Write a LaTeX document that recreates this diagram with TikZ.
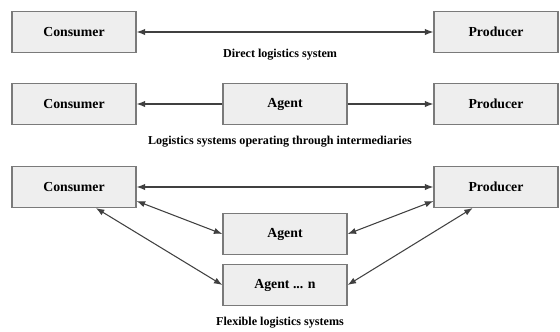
\documentclass[tikz,border=0pt]{standalone}
\usepackage{fontspec}
\setmainfont{Liberation Serif}
\usetikzlibrary{arrows.meta}

\definecolor{boxfill}{HTML}{EEEEEE}
\definecolor{boxline}{HTML}{7A7A7A}

\tikzset{
	party/.style={
		draw=boxline, fill=boxfill, line width=0.9pt,
		minimum width=3.1cm, minimum height=1.02cm,
		font=\bfseries\fontsize{9.8}{11}\selectfont
	},
	caption/.style={font=\bfseries\fontsize{8.6}{10}\selectfont},
	link/.style={draw=black!75, line width=0.75pt,
		>={Latex[length=6pt,width=4.5pt]}}
}

\begin{document}
\begin{tikzpicture}[x=0.025cm, y=-0.025cm]
		\useasboundingbox (0,0) rectangle (560,331);
		% direct
		\node [party] (c1) at (74,32) {Consumer};
		\node [party] (p1) at (496,32) {Producer};
		\draw [link, <->] (c1) -- (p1);
		\node [caption] (t1) at (280,55) {Direct logistics system};
		% through intermediaries
		\node [party] (c2) at (74,104) {Consumer};
		\node [party] (a2) at (285,104) {Agent};
		\node [party] (p2) at (496,104) {Producer};
		\draw [link, ->] (a2) -- (c2);
		\draw [link, ->] (a2) -- (p2);
		\node [caption] (t2) at (280,142) {Logistics systems operating through intermediaries};
		% flexible
		\node [party] (c3) at (74,187) {Consumer};
		\node [party] (p3) at (496,187) {Producer};
		\node [party] (a3) at (285,234) {Agent};
		\node [party] (n3) at (285,285) {Agent ... n};
		\draw [link, <->] (c3) -- (p3);
		\draw [link, <->] (c3.south east) ++(0,-7) -- (a3.west);
		\draw [link, <->] ([xshift=-29]c3.south east) -- (n3.west);
		\draw [link, <->] (p3.south west) ++(0,-7) -- (a3.east);
		\draw [link, <->] ([xshift=28]p3.south west) -- (n3.east);
		\node [caption] (t3) at (280,323) {Flexible logistics systems};
	\end{tikzpicture}
\end{document}
